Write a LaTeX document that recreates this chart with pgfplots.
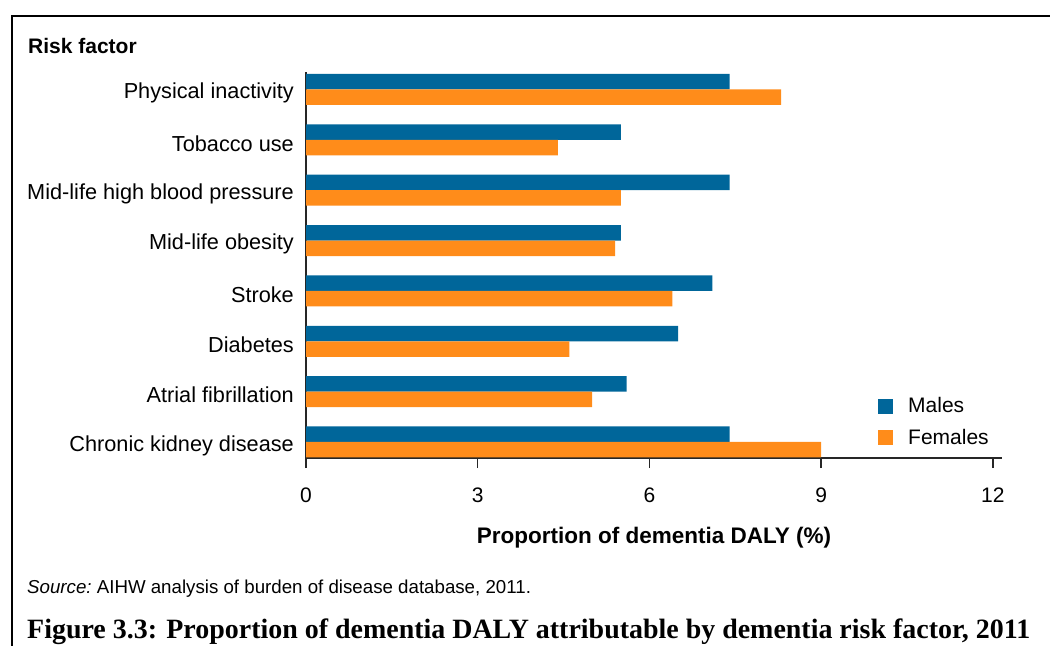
\documentclass[border=0pt]{standalone}
\usepackage{fontspec}
\setmainfont{Liberation Sans}
\newfontfamily\capfont{Liberation Serif}
\usepackage{graphicx}
\usepackage{pgfplots}
\pgfplotsset{compat=1.18}
\definecolor{mblue}{RGB}{0,102,154}
\definecolor{forange}{RGB}{255,140,26}
\newcommand{\chartfont}{\fontsize{21bp}{25bp}\selectfont}

\pgfplotstableread{
idx males females
0 7.4 9.0
1 5.6 5.0
2 6.5 4.6
3 7.1 6.4
4 5.5 5.4
5 7.4 5.5
6 5.5 4.4
7 7.4 8.3
}\datatable

\begin{document}
\begin{tikzpicture}[x=1bp,y=1bp]
\path[use as bounding box] (0,0) rectangle (1050,-646);
\draw[line width=2bp] (12,-646) -- (12,-16) -- (1050,-16);
\node[anchor=base west, inner sep=0, font=\chartfont\bfseries] at (28,-53.5) {Risk factor};
\begin{axis}[
  at={(306bp,-458bp)}, anchor=south west,
  scale only axis, width=696bp, height=386bp,
  xmin=0, xmax=12.16, ymin=-0.318, ymax=7.347,
  xbar, bar width=15.5bp,
  axis x line*=bottom, axis y line*=left,
  axis line style={line width=1.5bp, color=black!85},
  xtick={0,3,6,9,12}, tick align=outside, major tick length=10bp,
  xtick style={line width=1.5bp, color=black!85},
  ytick={0,...,7},
  yticklabels={Chronic kidney disease, Atrial fibrillation, Diabetes, Stroke, Mid-life obesity, Mid-life high blood pressure, Tobacco use, Physical inactivity},
  ytick style={draw=none},
  yticklabel style={anchor=east, inner sep=0pt, xshift=-2bp, yshift=-3.5bp, font=\fontsize{21.7bp}{25bp}\selectfont},
  xticklabel style={anchor=base, inner sep=0pt, yshift=-34.5bp, font=\chartfont},
  /pgf/number format/assume math mode=true,
  xlabel={\bfseries Proportion of dementia DALY (\%)},
  xlabel style={anchor=center, at={(axis description cs:0.5,-0.207)}, font=\fontsize{22.5bp}{26bp}\selectfont},
  legend style={at={(0.8218,0.1567)}, anchor=north west, draw=none, fill=none, inner sep=0pt, row sep=15bp, font=\chartfont, nodes={inner sep=0pt}},
  legend cell align=left,
  /tikz/every odd column/.style={column sep=15bp},
  clip=false,
]
\addplot[fill=mblue, draw=none, bar shift=7.75bp,
  legend image code/.code={\fill[mblue] (0bp,-7.5bp) rectangle (15bp,7.5bp);}]
  table[x=males, y=idx] {\datatable};
\addlegendentry{Males}
\addplot[fill=forange, draw=none, bar shift=-7.75bp,
  legend image code/.code={\fill[forange] (0bp,-7.5bp) rectangle (15bp,7.5bp);}]
  table[x=females, y=idx] {\datatable};
\addlegendentry{Females}
\end{axis}
\node[anchor=base west, inner sep=0, font=\fontsize{18.7bp}{22bp}\selectfont] at (27,-593) {\textit{Source:}~AIHW analysis of burden of disease database, 2011.};
\node[anchor=base west, inner sep=0] at (27,-638) {\resizebox{1003bp}{!}{\capfont\bfseries Figure 3.3: Proportion of dementia DALY attributable by dementia risk factor, 2011}};
\end{tikzpicture}
\end{document}
